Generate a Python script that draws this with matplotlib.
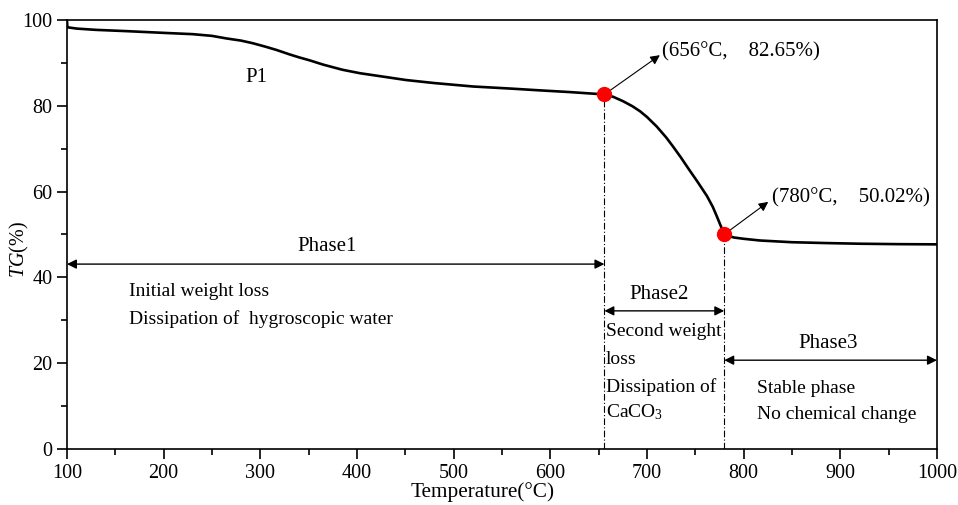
"""TG curve with three decomposition phases."""

import matplotlib
matplotlib.use("Agg")
import matplotlib.pyplot as plt
from matplotlib.ticker import MultipleLocator

# data
temperature = [100, 100.5, 110, 130, 162, 200, 230, 250, 265, 280, 292, 305, 317,
               330, 340, 351, 365, 385, 403, 430, 451, 480, 520, 560, 589, 620,
               656, 665, 675, 685, 693, 700, 710, 720, 727, 735, 744, 752, 762,
               768, 772, 776, 780, 785, 790, 800, 817, 850, 886, 920, 960, 1000]
tg = [99.8, 98.3, 98.0, 97.7, 97.4, 97.0, 96.7, 96.3, 95.7, 95.2, 94.6, 93.8, 93.0,
      92.0, 91.3, 90.6, 89.6, 88.4, 87.6, 86.7, 86.0, 85.3, 84.5, 84.0, 83.6, 83.2,
      82.65, 82.1, 81.1, 79.9, 78.7, 77.4, 75.2, 72.6, 70.5, 68.0, 65.0, 62.4, 59.0,
      56.5, 54.4, 52.2, 50.02, 49.6, 49.3, 49.0, 48.6, 48.2, 48.0, 47.85, 47.75, 47.7]

key_points = [(656, 82.65), (780, 50.02)]
key_labels = ["(656°C,    82.65%)", "(780°C,    50.02%)"]
arrow_tips = [(713.4, 91.8), (825.5, 57.6)]
label_pos = [(716, 92.7), (829, 58.5)]

phase_edges = [100, 656, 780, 1000]
phase_names = ["Phase1", "Phase2", "Phase3"]
phase_arrow_y = [43.1, 32.2, 20.7]
phase_label_pos = [(369, 47.2), (713, 36.1), (887, 24.7)]

plt.rcParams["font.family"] = ["Liberation Serif", "DejaVu Serif"]
plt.rcParams["mathtext.fontset"] = "custom"
plt.rcParams["mathtext.rm"] = "Liberation Serif"
plt.rcParams["mathtext.it"] = "Liberation Serif:italic"

fig = plt.figure(figsize=(9.58, 5.05), dpi=100)
ax = fig.add_axes([0.0699, 0.1109, 0.9081, 0.8495])

ax.plot(temperature, tg, color="black", lw=1.9, zorder=3)

for (t, v), lab, (ax_, ay_), (lx, ly) in zip(key_points, key_labels, arrow_tips, label_pos):
    ax.plot([t, t], [0, v], color="black", lw=0.8, dashes=(6, 2, 1, 2), zorder=2)
    ax.plot(t, v, "o", color="#ff0000", ms=10, zorder=4)
    ax.annotate("", xy=(ax_, ay_), xytext=(t, v),
                arrowprops=dict(arrowstyle="-|>", color="black", lw=0.8,
                                mutation_scale=14, shrinkA=0, shrinkB=0))
    ax.text(lx, ly, lab, fontsize=15, ha="left", va="center")

for i, name in enumerate(phase_names):
    ax.annotate("", xy=(phase_edges[i + 1], phase_arrow_y[i]),
                xytext=(phase_edges[i], phase_arrow_y[i]),
                arrowprops=dict(arrowstyle="<|-|>", color="black", lw=1.0,
                                mutation_scale=14, shrinkA=0, shrinkB=0))
    x, y = phase_label_pos[i]
    ax.text(x, y, name, fontsize=15, ha="center", va="center")

ax.text(164, 36.6, "Initial weight loss", fontsize=14, ha="left", va="center")
ax.text(164, 30.3, "Dissipation of  hygroscopic water", fontsize=14, ha="left", va="center")
for y, s in zip([27.3, 20.8, 14.5, 8.6],
                ["Second weight", "loss", "Dissipation of", "CaCO$_3$"]):
    ax.text(657.5, y, s, fontsize=14, ha="left", va="center")
ax.text(814, 14.2, "Stable phase", fontsize=14, ha="left", va="center")
ax.text(814, 8.0, "No chemical change", fontsize=14, ha="left", va="center")
ax.text(295.5, 86.6, "P1", fontsize=15, ha="center", va="center")

ax.set_xlim(100, 1000)
ax.set_ylim(0, 100)
ax.xaxis.set_major_locator(MultipleLocator(100))
ax.xaxis.set_minor_locator(MultipleLocator(50))
ax.yaxis.set_major_locator(MultipleLocator(20))
ax.yaxis.set_minor_locator(MultipleLocator(10))
ax.tick_params(which="both", direction="out", width=1.2, labelsize=14.5,
               top=False, right=False)
ax.tick_params(which="major", length=7)
ax.tick_params(which="minor", length=4)
for sp in ax.spines.values():
    sp.set_linewidth(1.2)

ax.set_xlabel("Temperature(°C)", fontsize=15.3)
ax.xaxis.set_label_coords(0.478, -0.078)
ax.xaxis.label.set_va("top")
ax.set_ylabel(r"$\mathit{TG}$(%)", fontsize=14.5)
ax.yaxis.set_label_coords(-0.041, 0.464)

fig.savefig("out.png", dpi=100)
